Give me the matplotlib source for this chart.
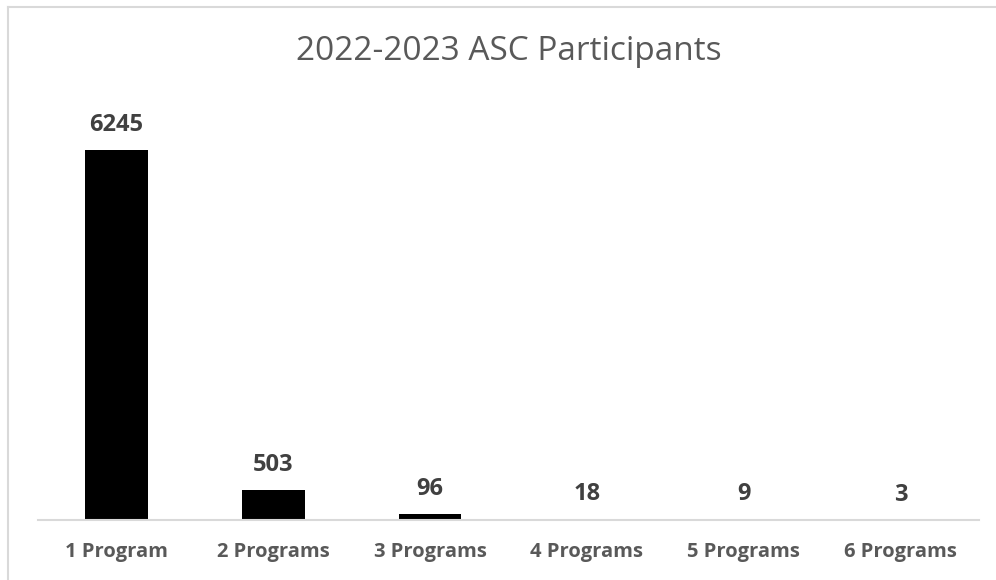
import matplotlib
matplotlib.use("Agg")
import matplotlib.pyplot as plt
from matplotlib.lines import Line2D

categories = ["1 Program", "2 Programs", "3 Programs", "4 Programs", "5 Programs", "6 Programs"]
participants = [6245, 503, 96, 18, 9, 3]
title = "2022-2023 ASC Participants"

plt.rcParams["font.family"] = ["Open Sans", "DejaVu Sans"]

fig = plt.figure(figsize=(9.96, 5.80), dpi=100)
W, H = 996, 580
ax = fig.add_axes([38 / W, 60 / H, (979 - 38) / W, 415 / H])

x = range(len(categories))
bars = ax.bar(x, participants, width=0.4, color="black")
ax.set_xlim(-0.5, len(categories) - 0.5)
ax.set_ylim(0, 7000)

for rect, v in zip(bars, participants):
    ax.annotate(f"{v}", (rect.get_x() + rect.get_width() / 2, rect.get_height()),
                xytext=(0, 19), textcoords="offset pixels", ha="center", va="baseline",
                fontsize=17, fontweight="bold", color="#404040")

ax.set_xticks(list(x))
ax.set_xticklabels(categories, fontsize=14.5, fontweight="bold", color="#595959")
ax.tick_params(axis="x", length=0, pad=16)
ax.set_yticks([])
for s in ["top", "right", "left"]:
    ax.spines[s].set_visible(False)
ax.spines["bottom"].set_color("#d9d9d9")
ax.spines["bottom"].set_linewidth(1.5)

fig.text((38 + 979) / 2 / W, 1 - 52 / H, title, ha="center", va="center",
         fontsize=24, color="#595959")

# light frame along the top and left edges
fig.add_artist(Line2D([7.5 / W, 1], [1 - 6.5 / H, 1 - 6.5 / H], transform=fig.transFigure,
                      color="#d9d9d9", linewidth=1.5))
fig.add_artist(Line2D([7.5 / W, 7.5 / W], [0, 1 - 6.5 / H], transform=fig.transFigure,
                      color="#d9d9d9", linewidth=1.5))

fig.savefig("out.png", dpi=100, facecolor="white")
